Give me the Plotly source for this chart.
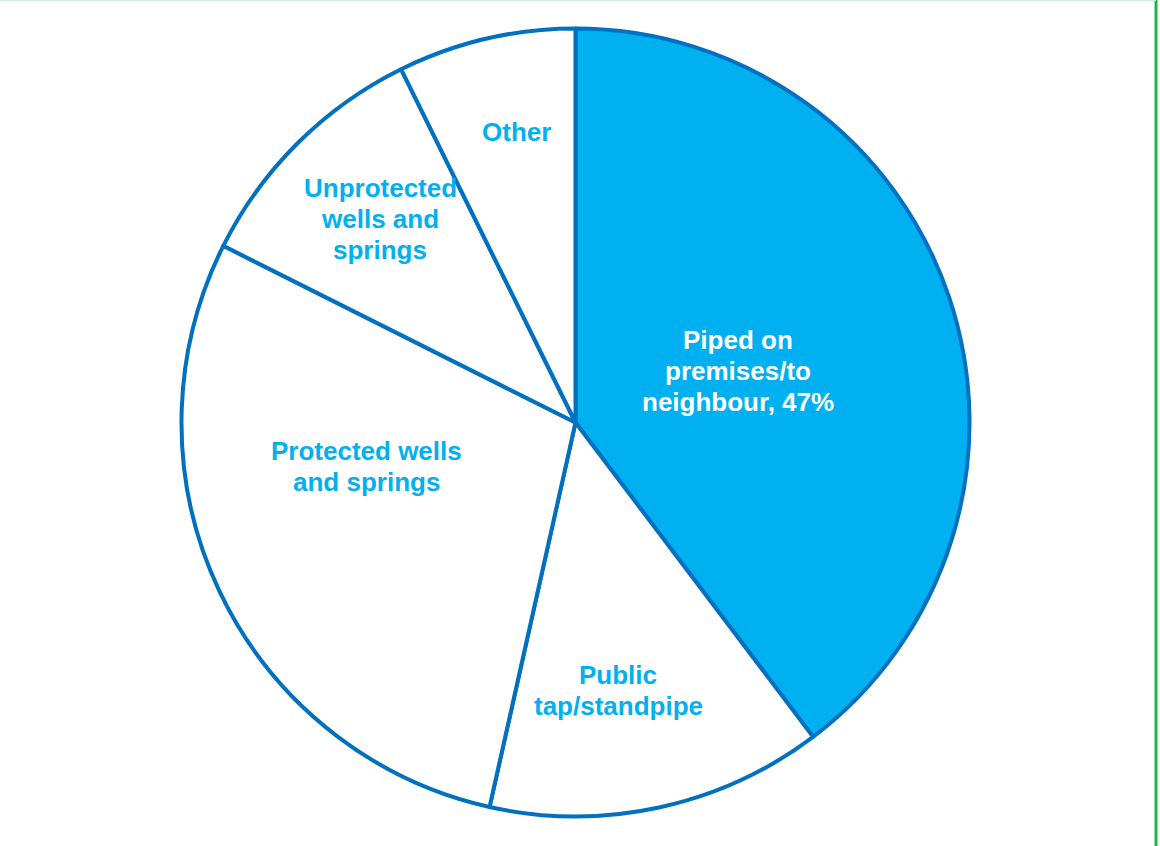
import plotly.graph_objects as go

# Data (slice shares as drawn)
categories = ["Piped on premises/to neighbour", "Public tap/standpipe",
              "Protected wells and springs", "Unprotected wells and springs", "Other"]
values = [39.7, 13.8, 28.9, 10.3, 7.3]
label_lines = [["Piped on", "premises/to", "neighbour, 47%"],
               ["Public", "tap/standpipe"],
               ["Protected wells", "and springs"],
               ["Unprotected", "wells and", "springs"],
               ["Other"]]
label_pos_px = [(738, 371), (618, 690), (366, 466), (380, 219), (516, 132)]

W, H = 1160, 846
BLUE = "#00B0F0"
LINE = "#0070C0"
LINE_GAP = 31

fig = go.Figure()
fig.add_trace(go.Pie(
    labels=categories,
    values=values,
    sort=False,
    direction="clockwise",
    rotation=0,
    marker=dict(colors=[BLUE, "white", "white", "white", "white"],
                line=dict(color=LINE, width=4)),
    textinfo="none",
    hoverinfo="label+percent",
    showlegend=False,
    domain=dict(x=[181.5 / W, 969.5 / W], y=[29.5 / H, 817.5 / H]),
))

for i, (lines, (px, py)) in enumerate(zip(label_lines, label_pos_px)):
    n = len(lines)
    for j, ln in enumerate(lines):
        ly = py + (j - (n - 1) / 2) * LINE_GAP
        fig.add_annotation(
            x=px / W, y=1 - ly / H, xref="paper", yref="paper",
            text="<b>" + ln + "</b>", showarrow=False,
            font=dict(family="Liberation Sans", size=26,
                      color="white" if i == 0 else BLUE),
            xanchor="center", yanchor="middle", align="center",
        )

fig.add_shape(type="line", xref="paper", yref="paper",
              x0=1156 / W, x1=1156 / W, y0=0, y1=1,
              line=dict(color="#22B14C", width=3))
fig.add_shape(type="line", xref="paper", yref="paper",
              x0=0, x1=1156 / W, y0=1 - 0.5 / H, y1=1 - 0.5 / H,
              line=dict(color="#CDEFD3", width=1))

fig.update_layout(
    width=W, height=H,
    margin=dict(l=0, r=0, t=0, b=0),
    paper_bgcolor="white",
    plot_bgcolor="white",
    font=dict(family="Liberation Sans"),
)

fig.write_html("out.html")
